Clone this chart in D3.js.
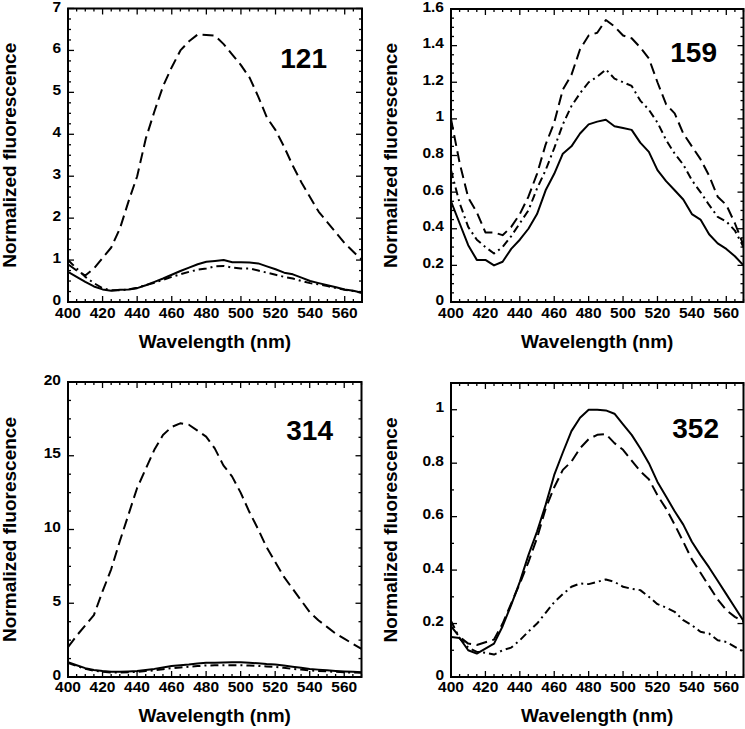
<!DOCTYPE html>
<html><head><meta charset="utf-8">
<script src="https://cdn.jsdelivr.net/npm/d3@7/dist/d3.min.js"></script>
<style>
html,body{margin:0;padding:0;background:#fff;}
svg{display:block;}
text{font-family:"Liberation Sans",Arial,Helvetica,sans-serif;font-weight:bold;fill:#000;}
</style></head>
<body><svg id="chart" width="745" height="729"></svg>
<script>
// ---------- DATA ----------
const wavelengths = [400,405,410,415,420,425,430,435,440,445,450,455,460,465,470,475,480,485,490,495,500,505,510,515,520,525,530,535,540,545,550,555,560,565,570];
const xTicks = [400,420,440,460,480,500,520,540,560];
const xLabel = "Wavelength (nm)";
const yLabel = "Normalized fluorescence";
const panelNames = ["121","159","314","352"];

// Panel 121
const p121Solid   = [0.72,0.6,0.48,0.37,0.3,0.27,0.29,0.3,0.33,0.4,0.48,0.56,0.65,0.74,0.82,0.9,0.96,0.98,1.0,0.95,0.95,0.94,0.92,0.85,0.78,0.7,0.66,0.58,0.5,0.45,0.4,0.35,0.3,0.27,0.22];
const p121Dashed  = [0.9,0.75,0.63,0.8,1.05,1.3,1.75,2.4,3.0,3.9,4.55,5.15,5.6,6.0,6.22,6.38,6.37,6.35,6.15,5.9,5.65,5.35,4.9,4.4,4.1,3.7,3.25,2.85,2.5,2.15,1.9,1.65,1.4,1.2,1.0];
const p121DashDot = [1.0,0.8,0.6,0.45,0.33,0.28,0.28,0.3,0.34,0.4,0.46,0.53,0.6,0.66,0.72,0.77,0.8,0.85,0.86,0.82,0.8,0.8,0.75,0.7,0.65,0.6,0.56,0.5,0.45,0.42,0.38,0.33,0.29,0.26,0.22];
const p121YTicks = [0,1,2,3,4,5,6,7];

// Panel 159
const p159Solid   = [0.55,0.43,0.31,0.23,0.23,0.2,0.22,0.29,0.34,0.4,0.48,0.61,0.7,0.81,0.85,0.92,0.97,0.985,0.995,0.96,0.95,0.94,0.87,0.82,0.72,0.66,0.61,0.56,0.48,0.45,0.37,0.32,0.29,0.25,0.2];
const p159Dashed  = [1.0,0.76,0.57,0.49,0.38,0.38,0.365,0.41,0.48,0.575,0.7,0.86,0.98,1.16,1.24,1.38,1.455,1.47,1.54,1.505,1.455,1.44,1.39,1.33,1.2,1.08,1.03,0.92,0.85,0.78,0.69,0.575,0.53,0.43,0.31];
const p159DashDot = [0.72,0.54,0.41,0.34,0.3,0.265,0.3,0.36,0.43,0.5,0.62,0.72,0.84,0.97,1.07,1.14,1.2,1.23,1.27,1.22,1.2,1.18,1.1,1.05,0.98,0.885,0.81,0.75,0.665,0.6,0.53,0.465,0.44,0.39,0.3];
const p159YTicks = [0,0.2,0.4,0.6,0.8,1,1.2,1.4,1.6];

// Panel 314
const p314Solid   = [1.0,0.8,0.6,0.48,0.4,0.36,0.35,0.37,0.4,0.47,0.55,0.65,0.75,0.8,0.85,0.92,0.97,0.97,0.98,1.0,1.0,0.97,0.93,0.88,0.85,0.78,0.7,0.62,0.55,0.5,0.45,0.41,0.38,0.35,0.32];
const p314Dashed  = [2.03,2.8,3.5,4.2,5.8,7.3,9.2,11.0,12.8,14.1,15.4,16.4,16.95,17.2,17.1,16.7,16.3,15.5,14.35,13.6,12.5,11.2,10.05,8.8,7.8,6.8,6.0,5.2,4.4,3.85,3.4,2.95,2.6,2.25,1.9];
const p314DashDot = [0.95,0.75,0.55,0.43,0.35,0.31,0.3,0.32,0.35,0.4,0.45,0.52,0.6,0.65,0.7,0.74,0.78,0.79,0.8,0.8,0.8,0.78,0.75,0.72,0.68,0.62,0.55,0.5,0.45,0.41,0.38,0.35,0.32,0.3,0.28];
const p314YTicks = [0,5,10,15,20];

// Panel 352
const p352Solid   = [0.15,0.146,0.1,0.0875,0.106,0.125,0.19,0.27,0.356,0.456,0.544,0.644,0.756,0.84,0.92,0.97,1.0,1.0,0.9975,0.985,0.945,0.906,0.856,0.8,0.73,0.675,0.62,0.57,0.506,0.456,0.41,0.36,0.31,0.26,0.21];
const p352Dashed  = [0.19,0.15,0.125,0.12,0.13,0.14,0.2,0.275,0.35,0.43,0.52,0.63,0.71,0.775,0.806,0.856,0.89,0.906,0.909,0.875,0.85,0.81,0.77,0.74,0.68,0.63,0.57,0.506,0.44,0.39,0.34,0.29,0.25,0.225,0.206];
const p352DashDot = [0.21,0.145,0.11,0.094,0.091,0.084,0.1,0.11,0.1375,0.17,0.2,0.24,0.28,0.31,0.3375,0.35,0.3475,0.356,0.365,0.356,0.3375,0.33,0.325,0.3,0.2725,0.26,0.244,0.2125,0.194,0.169,0.1625,0.1375,0.131,0.1125,0.094];
const p352YTicks = [0,0.2,0.4,0.6,0.8,1];

// ---------- LAYOUT ----------
const panels = [
  {name:panelNames[0], box:[68,8.5,362,302], yMax:7, yTicks:p121YTicks, yMinorStep:0.25, series:[p121Solid,p121Dashed,p121DashDot], labelX:16, numX:327, numY:68, xlabY:348, tickLabDy:16},
  {name:panelNames[1], box:[451,9,743.5,302], yMax:1.6, yTicks:p159YTicks, yMinorStep:0.05, series:[p159Solid,p159Dashed,p159DashDot], labelX:397, numX:717, numY:62, xlabY:348, tickLabDy:16},
  {name:panelNames[2], box:[68,382,361.5,677], yMax:20, yTicks:p314YTicks, yMinorStep:1.25, series:[p314Solid,p314Dashed,p314DashDot], labelX:16, numX:333, numY:440, xlabY:722, tickLabDy:15},
  {name:panelNames[3], box:[451,383,743.5,677], yMax:1.1, yTicks:p352YTicks, yMinorStep:0.1, series:[p352Solid,p352Dashed,p352DashDot], labelX:397, numX:719, numY:438, xlabY:722, tickLabDy:15}
];
const dashes = [null, "11,5.5", "8,4,2,4"];

const svg = d3.select("#chart");
const fmt = d => String(+d.toFixed(2));

panels.forEach((p,i) => {
  const [x0,y0,x1,y1] = p.box;
  const x = d3.scaleLinear().domain([400,570]).range([x0,x1]);
  const y = d3.scaleLinear().domain([0,p.yMax]).range([y1,y0]);
  const g = svg.append("g");
  const clipId = "clip"+i;
  svg.append("clipPath").attr("id",clipId).append("rect")
    .attr("x",x0).attr("y",y0).attr("width",x1-x0).attr("height",y1-y0);

  // minor ticks
  const xMinor = d3.range(400,570.01,5).filter(v => v%20!==0);
  const yMinor = d3.range(0,p.yMax+1e-9,p.yMinorStep).filter(v => !p.yTicks.some(t=>Math.abs(t-v)<1e-9));
  const tk = g.append("g").attr("stroke","#000").attr("stroke-width",1.3);
  const minL = 3, majL = 6;
  xTicks.forEach(v => {
    tk.append("line").attr("x1",x(v)).attr("x2",x(v)).attr("y1",y1).attr("y2",y1-majL);
    tk.append("line").attr("x1",x(v)).attr("x2",x(v)).attr("y1",y0).attr("y2",y0+majL);
  });
  xMinor.forEach(v => {
    tk.append("line").attr("x1",x(v)).attr("x2",x(v)).attr("y1",y1).attr("y2",y1-minL);
    tk.append("line").attr("x1",x(v)).attr("x2",x(v)).attr("y1",y0).attr("y2",y0+minL);
  });
  p.yTicks.forEach(v => {
    tk.append("line").attr("y1",y(v)).attr("y2",y(v)).attr("x1",x0).attr("x2",x0+majL);
    tk.append("line").attr("y1",y(v)).attr("y2",y(v)).attr("x1",x1).attr("x2",x1-majL);
  });
  yMinor.forEach(v => {
    tk.append("line").attr("y1",y(v)).attr("y2",y(v)).attr("x1",x0).attr("x2",x0+minL);
    tk.append("line").attr("y1",y(v)).attr("y2",y(v)).attr("x1",x1).attr("x2",x1-minL);
  });

  // curves
  const line = d3.line().x((d,j)=>x(wavelengths[j])).y(d=>y(d));
  const cg = g.append("g").attr("clip-path","url(#"+clipId+")");
  p.series.forEach((s,k) => {
    cg.append("path").datum(s).attr("d",line)
      .attr("fill","none").attr("stroke","#000").attr("stroke-width",2)
      .attr("stroke-linejoin","round")
      .attr("stroke-dasharray",dashes[k]);
  });

  // frame
  g.append("rect").attr("x",x0).attr("y",y0).attr("width",x1-x0).attr("height",y1-y0)
    .attr("fill","none").attr("stroke","#000").attr("stroke-width",2);

  // tick labels
  g.append("g").selectAll("text").data(xTicks).join("text")
    .attr("x",d=>x(d)).attr("y",y1+p.tickLabDy).attr("text-anchor","middle")
    .style("font-size","15.5px").text(d=>d);
  g.append("g").selectAll("text").data(p.yTicks).join("text")
    .attr("x",x0-7).attr("y",d=>Math.max(y(d)+2.5, 12)).attr("text-anchor","end")
    .style("font-size","15.5px").text(fmt);

  // axis titles
  g.append("text").attr("x",(x0+x1)/2).attr("y",p.xlabY).attr("text-anchor","middle")
    .style("font-size","19px").text(xLabel);
  g.append("text").attr("transform",`translate(${p.labelX},${(y0+y1)/2}) rotate(-90)`)
    .attr("text-anchor","middle").style("font-size","19px").text(yLabel);

  // panel number
  g.append("text").attr("x",p.numX).attr("y",p.numY).attr("text-anchor","end")
    .style("font-size","28px").text(p.name);
});
</script></body></html>
